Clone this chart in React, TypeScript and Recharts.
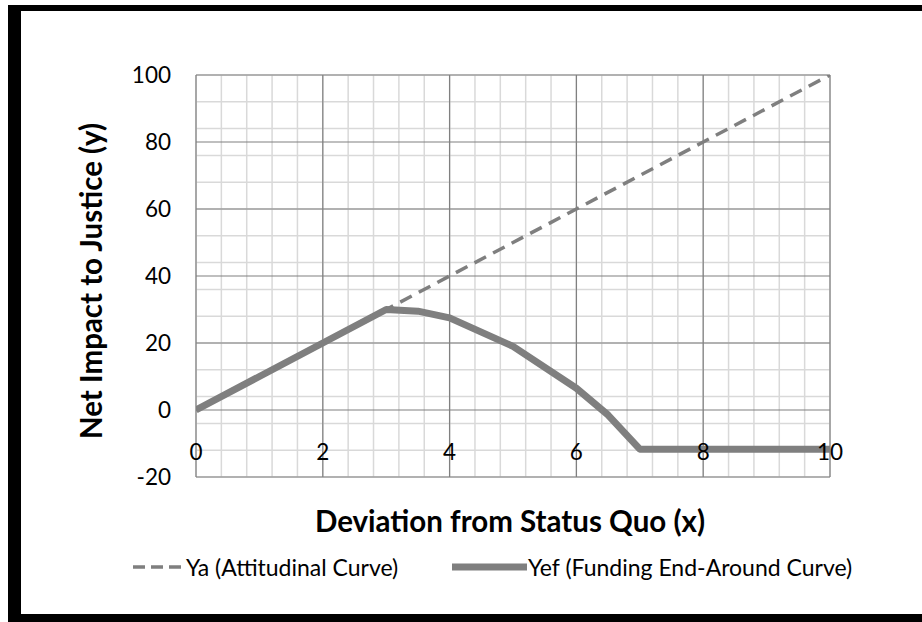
import React from 'react';
import { LineChart, Line, XAxis, YAxis, CartesianGrid, Legend } from 'recharts';

const FONT = 'Lato, "Open Sans", sans-serif';

const xTicks = [0, 2, 4, 6, 8, 10];
const yTicks = [-20, 0, 20, 40, 60, 80, 100];
const xMinorTicks = [0, 0.4, 0.8, 1.2, 1.6, 2, 2.4, 2.8, 3.2, 3.6, 4, 4.4, 4.8, 5.2, 5.6, 6, 6.4, 6.8, 7.2, 7.6, 8, 8.4, 8.8, 9.2, 9.6, 10];
const yMinorTicks = [-20, -16, -12, -8, -4, 0, 4, 8, 12, 16, 20, 24, 28, 32, 36, 40, 44, 48, 52, 56, 60, 64, 68, 72, 76, 80, 84, 88, 92, 96, 100];

const yaX = [0, 1, 2, 3, 4, 5, 6, 7, 8, 9, 10];
const yaY = [0, 10, 20, 30, 40, 50, 60, 70, 80, 90, 100];

const yefX = [0, 1, 2, 3, 3.5, 4, 5, 6, 6.5, 7, 8, 9, 10];
const yefY = [0, 10, 20, 30, 29.5, 27.5, 19, 6.5, -1.5, -11.7, -11.7, -11.7, -11.7];

const yaData = yaX.map((x, i) => ({ x, y: yaY[i] }));
const yefData = yefX.map((x, i) => ({ x, y: yefY[i] }));

const LINE_COLOR = '#7f7f7f';

const XTick = (props: any) => {
  const { x, y, payload } = props;
  return (
    <text x={x} y={y - 17} textAnchor="middle" fontFamily={FONT} fontSize={22.5} fill="#000">
      {payload.value}
    </text>
  );
};

const YTick = (props: any) => {
  const { x, y, payload } = props;
  return (
    <text x={x} y={y + 8} textAnchor="end" fontFamily={FONT} fontSize={22.5} fill="#000">
      {payload.value}
    </text>
  );
};

const XTitle = (props: any) => {
  const vb = props.viewBox || {};
  const cx = vb.x + vb.width / 2 - 3;
  return (
    <text x={cx} y={532} textAnchor="middle" fontFamily={FONT} fontWeight="bold" fontSize={29.5} fill="#000">
      Deviation from Status Quo (x)
    </text>
  );
};

const YTitle = (props: any) => {
  const vb = props.viewBox || {};
  const cy = vb.y + vb.height / 2 + 5;
  return (
    <text
      x={102}
      y={cy}
      transform={`rotate(-90, 102, ${cy})`}
      textAnchor="middle"
      fontFamily={FONT}
      fontWeight="bold"
      fontSize={29.5}
      fill="#000"
    >
      Net Impact to Justice (y)
    </text>
  );
};

const renderLegend = (props: any) => {
  const payload = props.payload || [];
  const ya = payload.find((p: any) => p.value && String(p.value).startsWith('Ya')) || payload[0];
  const yef = payload.find((p: any) => p.value && String(p.value).startsWith('Yef')) || payload[1];
  return (
    <svg width={922} height={36} style={{ display: 'block' }}>
      {ya && (
        <g>
          <line x1={133} x2={181} y1={18} y2={18} stroke={ya.color} strokeWidth={3.5} strokeDasharray="12 6" />
          <text x={186} y={27} fontFamily={FONT} fontSize={23} fill="#000">{ya.value}</text>
        </g>
      )}
      {yef && (
        <g>
          <line x1={452} x2={527} y1={18} y2={18} stroke={yef.color} strokeWidth={7} />
          <text x={528} y={27} fontFamily={FONT} fontSize={23} fill="#000">{yef.value}</text>
        </g>
      )}
    </svg>
  );
};

export default function App() {
  return (
    <div style={{ position: 'absolute', left: 0, top: 0, width: 922, height: 622, background: '#fff', overflow: 'hidden' }}>
      <div style={{ position: 'absolute', left: 8, top: 5, width: 914, height: 6, background: '#000' }} />
      <div style={{ position: 'absolute', left: 8, top: 5, width: 13, height: 617, background: '#000' }} />
      <div style={{ position: 'absolute', left: 8, top: 614, width: 914, height: 8, background: '#000' }} />
      <div style={{ position: 'absolute', left: 0, top: 0 }}>
        <LineChart width={922} height={622} margin={{ top: 75, right: 92, bottom: 115, left: 136 }}>
          <XAxis xAxisId="minor" type="number" dataKey="x" domain={[0, 10]} ticks={xMinorTicks} hide allowDataOverflow />
          <YAxis yAxisId="minor" type="number" domain={[-20, 100]} ticks={yMinorTicks} hide allowDataOverflow />
          <CartesianGrid xAxisId="minor" yAxisId="minor" stroke="#d9d9d9" strokeWidth={1.5} />
          <XAxis
            dataKey="x"
            type="number"
            domain={[0, 10]}
            ticks={xTicks}
            interval={0}
            height={30}
            axisLine={false}
            tickLine={false}
            tickSize={0}
            tickMargin={0}
            tick={<XTick />}
            label={<XTitle />}
            allowDataOverflow
          />
          <YAxis
            type="number"
            domain={[-20, 100]}
            ticks={yTicks}
            interval={0}
            width={60}
            axisLine={false}
            tickLine={false}
            tickSize={0}
            tickMargin={25}
            tick={<YTick />}
            label={<YTitle />}
            allowDataOverflow
          />
          <CartesianGrid stroke="#808080" strokeWidth={1.2} />
          <Line
            data={yaData}
            dataKey="y"
            name="Ya (Attitudinal Curve)"
            type="linear"
            stroke={LINE_COLOR}
            strokeWidth={3.5}
            strokeDasharray="13 8"
            dot={false}
            activeDot={false}
            isAnimationActive={false}
          />
          <Line
            data={yefData}
            dataKey="y"
            name="Yef (Funding End-Around Curve)"
            type="linear"
            stroke={LINE_COLOR}
            strokeWidth={7}
            strokeLinejoin="round"
            dot={false}
            activeDot={false}
            isAnimationActive={false}
          />
          <Legend
            layout="horizontal"
            verticalAlign="middle"
            align="center"
            wrapperStyle={{ left: 0, top: 549, width: 922, height: 36 }}
            content={renderLegend}
          />
        </LineChart>
      </div>
    </div>
  );
}
